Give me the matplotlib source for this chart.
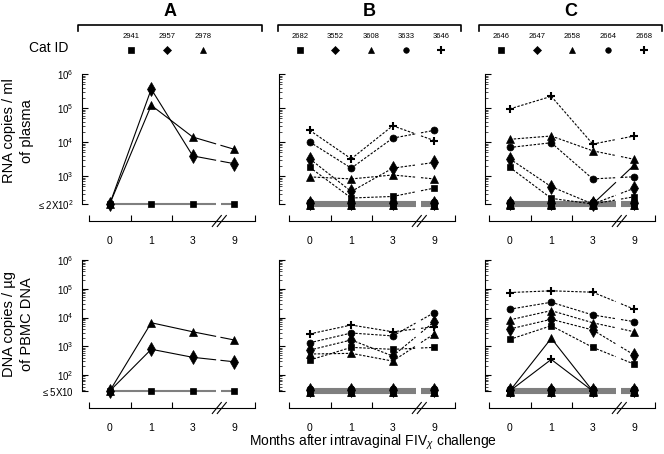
import numpy as np
import matplotlib
matplotlib.use('Agg')
import matplotlib.pyplot as plt
from matplotlib import transforms
from matplotlib.ticker import LogLocator, NullFormatter, FixedLocator

plt.rcParams['font.family'] = ['Liberation Sans', 'DejaVu Sans']
plt.rcParams['mathtext.fontset'] = 'custom'
plt.rcParams['mathtext.rm'] = 'Liberation Sans'
plt.rcParams['mathtext.it'] = 'Liberation Sans:italic'

# ---- data -------------------------------------------------------------
months = ['0', '1', '3', '9']
cats_A = ['2941', '2957', '2978']
cats_B = ['2682', '3552', '3608', '3633', '3646']
cats_C = ['2646', '2647', '2658', '2664', '2668']
marks_A = ['s', 'd', '^']
marks_BC = ['s', 'd', '^', 'o', '+']

U = None          # below detection limit -> drawn on the bottom line
RNA_LOD = 150     # drawn position of "<=2X10^2"
DNA_LOD = 28      # drawn position of "<=5X10"

# RNA copies / ml plasma (rows = cats, cols = months 0,1,3,9)
rna_A = [[U, U, U, U],
         [U, 3.6e5, 3.9e3, 2.3e3],
         [U, 1.2e5, 1.4e4, 6.1e3]]
rna_B = [[1.8e3, 225, 250, 440],
         [3.2e3, 350, 1.7e3, 2.5e3],
         [940, 820, 1.07e3, 820],
         [1.0e4, 1.7e3, 1.3e4, 2.2e4],
         [2.2e4, 3.2e3, 3.0e4, 1.1e4]]
rna_C = [[1.8e3, 220, U, 245],
         [3.2e3, 485, U, 435],
         [1.2e4, 1.5e4, 5.5e3, 3.1e3],
         [6.9e3, 9.5e3, 820, 950],
         [9.4e4, 2.2e5, 8.7e3, 1.5e4]]
rna_C_extra = [[U, U, U, 2.1e3]]
rna_B_low = [[U, U, U, U], [U, U, U, U], [U, U, U, U], [U, U, U, U]]
rna_C_low = [[U, U, U, U], [U, U, U, U], [U, U, U, U], [U, U, U, U]]

# DNA copies / ug PBMC DNA
dna_A = [[U, U, U, U],
         [U, 790, 415, 290],
         [U, 6.6e3, 3.2e3, 1.66e3]]
dna_B = [[333, 920, 786, 920],
         [740, 1.66e3, 460, 7.2e3],
         [540, 570, 307, 2.7e3],
         [1.33e3, 2.9e3, 2.3e3, 1.48e4],
         [2.7e3, 5.5e3, 3.2e3, 4.8e3]]
dna_C = [[1.74e3, 5.2e3, 920, 240],
         [4.0e3, 8.7e3, 3.7e3, 500],
         [8.3e3, 1.74e4, 6.6e3, 3.2e3],
         [1.95e4, 3.4e4, 1.23e4, 7.2e3],
         [7.4e4, 8.5e4, 7.6e4, 1.95e4]]
dna_C_extra = [[U, 1.9e3, U, U], [U, 350, U, U]]
dna_B_low = [[U, U, U, U], [U, U, U, U], [U, U, U, U], [U, U, U, U]]
dna_C_low = [[U, U, U, U], [U, U, U, U], [U, U, U, U], [U, U, U, U]]
low_marks = ['s', '^', 'd', 'o']
extra_marks_rna = ['^']
extra_marks_dna = ['^', '+']

# ---- layout (pixels) --------------------------------------------------
W, H = 664, 454
fig = plt.figure(figsize=(W / 100, H / 100), dpi=100)

panel_x = {'A': (89, 255, 82), 'B': (289, 455, 279), 'C': (489, 655, 485)}
row_y = {'rna': (74, 204), 'dna': (260, 391)}
GAP = (0.55, 0.68)
msize = {'s': 5, 'd': 7, '^': 5.5, 'o': 5, '+': 6}


def draw_cat(ax, vals, mk, lod, ls, shift=0):
    x = np.arange(len(vals))
    y = np.array([lod if v is None else v for v in vals], float)
    low = np.array([v is None for v in vals])
    sh = transforms.offset_copy(ax.transData, fig=fig, x=0, y=shift, units='dots')
    for i in range(len(vals) - 1):
        ts = [(0, 1)] if i < 2 else [(0, GAP[0]), (GAP[1], 1)]
        for t0, t1 in ts:
            xs = [x[i] + t0, x[i] + t1]
            ly = np.log10(y[i]) + np.array([t0, t1]) * (np.log10(y[i + 1]) - np.log10(y[i]))
            if low[i] and low[i + 1]:
                ax.plot(xs, 10 ** ly, color='#7f7f7f', lw=1.5, transform=sh,
                        clip_on=False, zorder=1, solid_capstyle='butt')
            else:
                ax.plot(xs, 10 ** ly, color='k', lw=0.8, ls=ls, clip_on=False,
                        zorder=2, dashes=(2.2, 1.4) if ls == '--' else (None, None))
    kw = dict(ls='none', marker=mk, color='k', ms=msize[mk], clip_on=False, zorder=3,
              mew=1.5 if mk == '+' else 0.5)
    ax.plot(x[~low], y[~low], **kw)
    ax.plot(x[low], y[low], transform=sh, **kw)


def setup_axes(pname, row):
    x0, x1, xs = panel_x[pname]
    yt, yb = row_y[row]
    ax = fig.add_axes([x0 / W, 1 - yb / H, (x1 - x0) / W, (yb - yt) / H])
    lod = RNA_LOD if row == 'rna' else DNA_LOD
    ax.set_yscale('log')
    ax.set_ylim(lod, 1e6)
    ax.set_xlim(-0.5, 3.5)
    for s in ['top', 'right']:
        ax.spines[s].set_visible(False)
    ax.patch.set_visible(False)
    ax.spines['left'].set_position(('outward', (x0 - xs) * 0.72))
    ax.spines['bottom'].set_position(('outward', 17 * 0.72))
    ax.spines['left'].set_linewidth(0.8)
    ax.spines['bottom'].set_linewidth(0.8)
    ax.set_xticks([-0.5, 0.5, 1.5, 3.5])
    ax.set_xticklabels([])
    ax.set_xticks(range(4), minor=True)
    ax.set_xticklabels(months, minor=True)
    ax.tick_params(axis='x', which='major', direction='in', length=4, width=0.8)
    ax.tick_params(axis='x', which='minor', length=0, pad=11, labelsize=7.5)
    decades = [1e2, 1e3, 1e4, 1e5, 1e6] if row == 'dna' else [1e3, 1e4, 1e5, 1e6]
    ax.yaxis.set_major_locator(FixedLocator([lod] + decades))
    ax.yaxis.set_minor_locator(LogLocator(base=10, subs=np.arange(2, 10)))
    ax.yaxis.set_minor_formatter(NullFormatter())
    ax.tick_params(axis='y', which='major', direction='in', length=4, width=0.8,
                   labelsize=7, pad=6)
    ax.tick_params(axis='y', which='minor', direction='in', length=2, width=0.5)
    if pname == 'A':
        low_lab = r'$\leq$2X10$^2$' if row == 'rna' else r'$\leq$5X10'
        ax.set_yticklabels([low_lab] + [r'$10^{%d}$' % int(np.log10(d)) for d in decades])
    else:
        ax.set_yticklabels([])
    # axis break marks
    bt = transforms.blended_transform_factory(ax.transData, ax.transAxes)
    dx = 4 / (x1 - x0)
    dy = 1 / (yb - yt)
    ysp = -17 * dy
    for xc in [2.58, 2.70]:
        ax.plot([xc - 4.5 * dx, xc + 4.5 * dx], [ysp - 5.5 * dy, ysp + 5.5 * dy],
                color='k', lw=0.8, transform=bt, clip_on=False)
    return ax, lod


panels = {
    ('A', 'rna'): (rna_A, marks_A, '-', [], [], [], []),
    ('B', 'rna'): (rna_B, marks_BC, '--', [], [], rna_B_low, low_marks),
    ('C', 'rna'): (rna_C, marks_BC, '--', rna_C_extra, extra_marks_rna, rna_C_low, low_marks),
    ('A', 'dna'): (dna_A, marks_A, '-', [], [], [], []),
    ('B', 'dna'): (dna_B, marks_BC, '--', [], [], dna_B_low, low_marks),
    ('C', 'dna'): (dna_C, marks_BC, '--', dna_C_extra, extra_marks_dna, dna_C_low, low_marks),
}

for (pname, row), (main, mks, ls, extra, emks, lows, lmks) in panels.items():
    ax, lod = setup_axes(pname, row)
    shifts = [-2, -0.7, 0.7, 2]
    for k, (vals, mk) in enumerate(zip(lows, lmks)):
        draw_cat(ax, vals, mk, lod, '-', shift=shifts[k % len(shifts)])
    for vals, mk in zip(extra, emks):
        draw_cat(ax, vals, mk, lod, '-')
    for vals, mk in zip(main, mks):
        draw_cat(ax, vals, mk, lod, ls)

# ---- header, labels ---------------------------------------------------
hdr = fig.add_axes([0, 0, 1, 1])
hdr.set_xlim(0, W)
hdr.set_ylim(H, 0)
hdr.axis('off')

groups = [('A', 78, 262, cats_A, marks_A, 131, 36),
          ('B', 278, 461, cats_B, marks_BC, 300, 35.3),
          ('C', 479, 662, cats_C, marks_BC, 501, 35.7)]
for name, bx0, bx1, cats, mks, c0, step in groups:
    hdr.text((bx0 + bx1) / 2, 11, name, ha='center', va='center',
             fontsize=13, fontweight='bold')
    hdr.plot([bx0, bx0, bx1, bx1], [31, 25, 25, 31], color='k', lw=1.2)
    for i, (cat, mk) in enumerate(zip(cats, mks)):
        cx = c0 + i * step
        hdr.text(cx, 36, cat, ha='center', va='center', fontsize=5.5)
        hdr.plot([cx], [50], marker='D' if mk == 'd' else mk, color='k',
                 ms=4 if mk != '+' else 5.5, mew=1.5 if mk == '+' else 0.5)
hdr.text(49, 48, 'Cat ID', ha='center', va='center', fontsize=10)

hdr.text(18, 131, 'RNA copies / ml\nof plasma', rotation=90, ha='center',
         va='center', fontsize=10.5, linespacing=1.3)
hdr.text(18, 324, 'DNA copies / \u00b5g\nof PBMC DNA', rotation=90, ha='center',
         va='center', fontsize=10.5, linespacing=1.3)
hdr.text(373, 442, r'Months after intravaginal FIV$_{\chi}$ challenge',
         ha='center', va='center', fontsize=10)

fig.savefig('out.png', dpi=100)
